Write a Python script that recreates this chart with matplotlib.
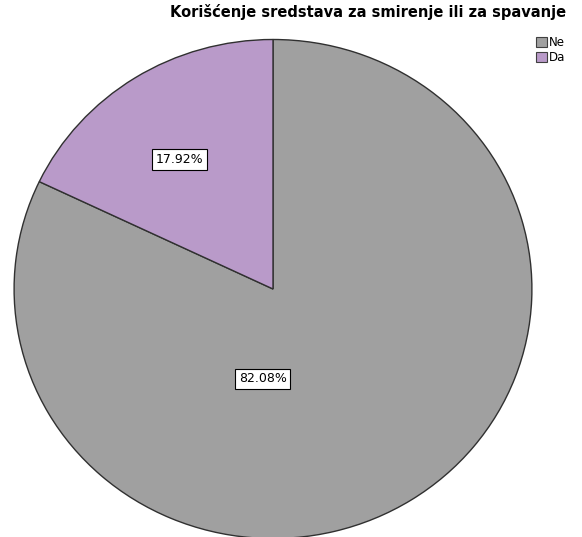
import matplotlib.pyplot as plt
from matplotlib.patches import Patch

# Share of respondents using sedatives or sleeping pills
categories = ["Ne", "Da"]
percentages = [82.08, 17.92]
colors = ["#a0a0a0", "#b99ac9"]
title = "Korišćenje sredstava za smirenje ili za spavanje"

fig = plt.figure(figsize=(5.82, 5.37), dpi=100)
fig.patch.set_facecolor("white")

# pie is slightly wider than tall, so stretch the axes instead of a circle
W, H = 582, 537
cx, cy, rx, ry = 273, 289, 261.5, 252
ax = fig.add_axes([(cx - rx) / W, (H - cy - ry) / H, 2 * rx / W, 2 * ry / H])

wedges, texts, autotexts = ax.pie(
    percentages, colors=colors, startangle=90, counterclock=False,
    autopct="%.2f%%", pctdistance=0.6,
    wedgeprops=dict(edgecolor="#303030", linewidth=1.0),
    textprops=dict(fontsize=9, color="black"),
)
ax.set_aspect("auto")
ax.set_xlim(-1.01, 1.01)
ax.set_ylim(-1.01, 1.01)

# label placement in axes units (-1..1)
label_pos = [(-0.04, -0.36), (-0.36, 0.52)]
for t, pos in zip(autotexts, label_pos):
    t.set_position(pos)
    t.set_bbox(dict(boxstyle="square,pad=0.3", facecolor="white",
                    edgecolor="black", linewidth=0.8))

fig.text(566 / W, 1 - 12 / H, title, ha="right", va="center",
         fontsize=10.5, fontweight="bold")

handles = [Patch(facecolor=c, edgecolor="#404040", linewidth=0.8) for c in colors]
fig.legend(handles, categories, loc="upper left",
           bbox_to_anchor=(536 / W, 1 - 36 / H), frameon=False,
           fontsize=8.5, handlelength=0.9, handleheight=0.9,
           handletextpad=0.2, labelspacing=0.15, borderpad=0, borderaxespad=0)

fig.savefig("out.png", dpi=100, facecolor="white")
